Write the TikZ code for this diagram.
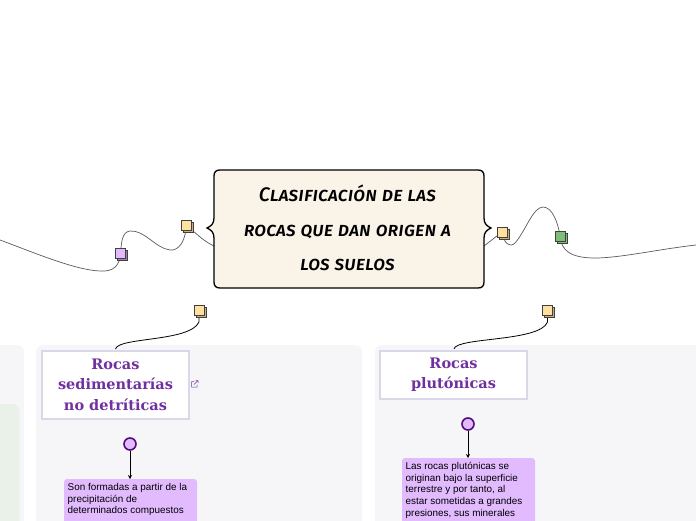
\documentclass[tikz,border=0pt]{standalone}
\usepackage{fontspec}
\usepackage{xcolor}
\usetikzlibrary{arrows.meta, calc, positioning}
\setmainfont{Liberation Sans}
\newfontfamily\titelfont[Letters=SmallCaps]{Fira Sans Medium Italic}
\newfontfamily\kopfont{DejaVu Serif}
\definecolor{creme}{RGB}{249,243,232}
\definecolor{paneel}{RGB}{246,246,249}
\definecolor{groenpaneel}{RGB}{234,241,232}
\definecolor{kader}{RGB}{219,215,232}
\definecolor{paars}{RGB}{112,48,160}
\definecolor{donkerpaars}{RGB}{84,10,120}
\definecolor{lila}{RGB}{226,187,255}
\definecolor{geel}{RGB}{255,224,160}
\definecolor{geelschaduw}{RGB}{205,175,120}
\definecolor{groen}{RGB}{126,190,120}
\definecolor{lijn}{RGB}{90,90,90}
\tikzset{
  kop/.style={draw=kader, line width=2pt, fill=white, align=center, text=paars,
    font=\kopfont\bfseries\fontsize{14.5}{20.5}\selectfont, inner sep=0pt},
  tekst/.style={align=left, anchor=north west, text=black,
    font=\fontsize{9.9}{11.7}\selectfont, inner xsep=3.5pt, inner ysep=4pt, text depth=0pt},
  stip/.style={circle, draw=donkerpaars, line width=1.6pt, fill=lila, minimum size=12pt, inner sep=0pt},
  tak/.style={draw=lijn, line width=0.7pt},
  zwart/.style={draw=black, line width=0.8pt},
  paneelvlak/.style={fill=paneel, rounded corners=7pt},
}
% blaadje met schaduw
\newcommand{\blad}[4]{%
  \node[minimum size=10pt, inner sep=0pt, fill=#4, draw=black!75, line width=0.6pt] at ($(#2)+(2,2)$) {};
  \node[minimum size=10pt, inner sep=0pt, fill=#3, draw=black!75, line width=0.6pt] (#2) at (#2) {};
}
\begin{document}
\begin{tikzpicture}[x=1pt, y=-1pt]
  \useasboundingbox (0,0) rectangle (696,520);
  \clip (0,0) rectangle (696,520);
  % panelen
  \fill[paneelvlak] (-30,345) rectangle (24,560);
  \fill[groenpaneel, rounded corners=7pt] (-30,404) rectangle (19.5,560);
  \fill[paneelvlak] (36,345) rectangle (362,560);
  \fill[paneelvlak] (375,345) rectangle (730,560);
  % takken
  \coordinate (linksuit) at (0,240);
  \coordinate (rechtsuit) at (696,245);
  \coordinate (blokL) at (214,246);
  \coordinate (blokR) at (484,246);
  \coordinate (blad1) at (186,225);
  \coordinate (blad2) at (120.5,253);
  \coordinate (blad3) at (502,232);
  \coordinate (blad4) at (560,236);
  \coordinate (blad5) at (199,310.5);
  \coordinate (blad6) at (547.5,310.5);
  \draw[tak] (blokL) .. controls (203,241) and (196,233) .. (blad1);
  \draw[tak] (blad1) .. controls (186,242) and (178,251) .. (170,250)
    .. controls (155,248) and (145,230) .. (130,231) .. controls (122,232) and (121.5,242) .. (blad2);
  \draw[tak] (blad2) .. controls (120,266) and (113,272) .. (100,271)
    .. controls (75,270) and (35,253) .. (linksuit);
  \draw[tak] (blokR) -- (blad3);
  \draw[tak] (blad3) .. controls (504,244) and (510,248) .. (515,243)
    .. controls (525,232) and (533,207) .. (543,207) .. controls (552,207) and (558,222) .. (blad4);
  \draw[tak] (blad4) .. controls (561,250) and (570,258) .. (595,258)
    .. controls (620,258) and (660,249) .. (rechtsuit);
  % centrale knoop
  \draw[fill=creme, draw=black, line width=1.3pt]
    (220,170) -- (478,170) .. controls (482,170) and (484,172) .. (484,176)
    -- (484,218) .. controls (484,224) and (487,226) .. (491,228)
    .. controls (487,230) and (484,232) .. (484,238) -- (484,282)
    .. controls (484,286) and (482,288) .. (478,288) -- (220,288)
    .. controls (216,288) and (214,286) .. (214,282) -- (214,238)
    .. controls (214,232) and (211,230) .. (207,228)
    .. controls (211,226) and (214,224) .. (214,218) -- (214,176)
    .. controls (214,172) and (216,170) .. (220,170) -- cycle;
  \node[align=center, font=\titelfont\fontsize{19.6}{34.5}\selectfont, text=black] (titel) at (347.5,228)
    {Clasificación de las\\rocas que dan origen a\\los suelos};
  % koppen
  \draw[zwart] (115.5,349) .. controls (118,337) and (190,342) .. (199,322) -- (blad5);
  \draw[zwart] (454,349) .. controls (456,337) and (540,342) .. (547.5,322) -- (blad6);
  \node[kop, minimum width=147pt, minimum height=68pt] (kopsediment) at (115.5,384.5)
    {Rocas\\sedimentarías\\no detríticas};
  \node[kop, minimum width=147pt, minimum height=48pt] (kopplutonisch) at (453.5,374.5)
    {Rocas\\plutónicas};
  % blaadjes
  \blad{1}{blad1}{geel}{geelschaduw}
  \blad{2}{blad2}{lila}{lila!70!black}
  \blad{3}{blad3}{geel}{geelschaduw}
  \blad{4}{blad4}{groen}{groen}
  \blad{5}{blad5}{geel}{geelschaduw}
  \blad{6}{blad6}{geel}{geelschaduw}
  % link
  \draw[paars, line width=0.5pt] (194,381.5) -- (191.5,381.5) -- (191.5,387) -- (197,387) -- (197,384.5)
    (194,384.5) -- (198,380.5) (195.5,380.5) -- (198,380.5) -- (198,383);
  % stippen en teksten
  \node[stip] (stip1) at (130,444) {};
  \node[stip] (stip2) at (468,424) {};
  \fill[lila, rounded corners=3pt] (64,479) rectangle (197,560);
  \fill[lila, rounded corners=3pt] (402,458) rectangle (535,560);
  \node[tekst] (tekst1) at (64,479) {Son formadas a partir de la\\precipitación de\\determinados compuestos};
  \node[tekst] (tekst2) at (402,458) {Las rocas plutónicas se\\originan bajo la superficie\\terrestre y por tanto, al\\estar sometidas a grandes\\presiones, sus minerales};
  \draw[-{Stealth[length=4pt,width=4pt]}, draw=black, line width=0.7pt] (stip1) -- (stip1 |- tekst1.north);
  \draw[-{Stealth[length=4pt,width=4pt]}, draw=black, line width=0.7pt] (stip2) -- (stip2 |- tekst2.north);
\end{tikzpicture}
\end{document}
